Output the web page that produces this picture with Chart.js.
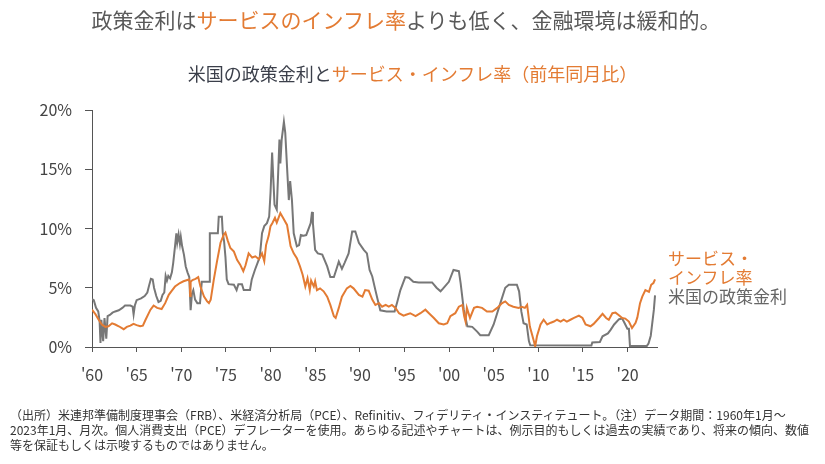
<!DOCTYPE html>
<html lang="ja">
<head>
    <meta charset="UTF-8">
    <title>政策金利とサービス・インフレ率</title>
    <style>
        body{
            margin: 0;
            background: #fff;
            font-family: "Noto Sans CJK JP", "Noto Sans", sans-serif;
        }
        #wrap{
            position: relative;
            width: 825px;
            height: 464px;
            overflow: hidden;
        }
        canvas{
            position: absolute;
            left: 0;
            top: 0;
        }
        .txt{
            position: absolute;
            white-space: nowrap;
        }
        .orange{ color: #E37B33; }
        #title{
            left: 0; width: 812px; top: 8px;
            text-align: center;
            font-size: 21px; line-height: 22px;
            color: #595959;
        }
        #subtitle{
            left: 0; width: 825px; top: 64px;
            text-align: center;
            font-size: 18px; line-height: 18px;
            color: #3b3f4a;
        }
        #labels{
            left: 668px; top: 248px;
            font-size: 17px; line-height: 19px;
        }
        #note{
            left: 10px; top: 407px;
            font-size: 12px; line-height: 15px;
            color: #333;
        }
    </style>
</head>
<body>
<div id="wrap">
    <canvas id="rateChart" width="825" height="464"></canvas>
    <div class="txt" id="title">政策金利は<span class="orange">サービスのインフレ率</span>よりも低く、金融環境は緩和的。</div>
    <div class="txt" id="subtitle">米国の政策金利と<span class="orange">サービス・インフレ率（前年同月比）</span></div>
    <div class="txt" id="labels"><span class="orange">サービス・<br>インフレ率</span><br><span style="color:#666">米国の政策金利</span></div>
    <div class="txt" id="note">（出所）米連邦準備制度理事会（FRB）、米経済分析局（PCE）、Refinitiv、フィデリティ・インスティテュート。（注）データ期間：1960年1月～<br>2023年1月、月次。個人消費支出（PCE）デフレーターを使用。あらゆる記述やチャートは、例示目的もしくは過去の実績であり、将来の傾向、数値<br>等を保証もしくは示唆するものではありません。</div>
</div>

<script src="https://cdn.jsdelivr.net/npm/chart.js"></script>
<script>
    // x軸の目盛り（年）
    const tickYears = [1960, 1965, 1970, 1975, 1980, 1985, 1990, 1995, 2000, 2005, 2010, 2015, 2020];

    // 米国の政策金利（%）
    const policyDates = [
        1960.00, 1960.20, 1960.45, 1960.70, 1960.85, 1960.95, 1961.05, 1961.25, 1961.40, 1961.60,
        1961.75, 1962.00, 1962.30, 1962.60, 1963.00, 1963.40, 1963.70, 1964.30, 1964.55, 1964.66,
        1964.80, 1965.00, 1965.50, 1965.90, 1966.20, 1966.40, 1966.60, 1966.80, 1966.95, 1967.20,
        1967.45, 1967.70, 1967.90, 1968.10, 1968.25, 1968.40, 1968.55, 1968.75, 1968.95, 1969.10,
        1969.30, 1969.45, 1969.55, 1969.70, 1969.85, 1969.95, 1970.10, 1970.30, 1970.50, 1970.70,
        1970.90, 1971.05, 1971.20, 1971.35, 1971.55, 1971.80, 1972.10, 1972.30, 1972.80, 1973.15,
        1973.20, 1973.60, 1974.10, 1974.20, 1974.55, 1974.65, 1974.80, 1974.95, 1975.10, 1975.30,
        1975.90, 1976.20, 1976.40, 1976.80, 1977.00, 1977.70, 1977.90, 1978.25, 1978.80, 1979.05,
        1979.30, 1979.60, 1979.85, 1980.00, 1980.18, 1980.30, 1980.45, 1980.70, 1981.00, 1981.10,
        1981.25, 1981.50, 1981.65, 1981.85, 1982.05, 1982.20, 1982.40, 1982.60, 1982.95, 1983.20,
        1983.40, 1983.70, 1984.00, 1984.50, 1984.65, 1984.75, 1985.00, 1985.30, 1985.80, 1986.35,
        1986.70, 1987.10, 1987.40, 1987.65, 1988.00, 1988.30, 1988.75, 1989.15, 1989.50, 1989.90,
        1990.45, 1990.80, 1991.10, 1991.40, 1991.75, 1992.00, 1992.30, 1993.00, 1993.90, 1994.20,
        1994.55, 1995.10, 1995.50, 1996.00, 1996.60, 1998.10, 1998.60, 1999.05, 1999.30, 1999.98,
        2000.50, 2001.10, 2001.30, 2001.65, 2002.05, 2002.60, 2003.15, 2003.50, 2004.45, 2005.00,
        2005.75, 2006.30, 2006.70, 2007.60, 2007.85, 2008.10, 2008.35, 2008.70, 2008.95, 2009.10,
        2015.95, 2016.05, 2016.90, 2017.20, 2017.80, 2018.10, 2018.50, 2019.05, 2019.40, 2019.65,
        2019.98, 2020.15, 2020.27, 2022.15, 2022.35, 2022.60, 2022.95, 2023.08
    ];
    const policyRate = [
        4.05, 3.95, 3.30, 3.00, 2.20, 0.35, 2.30, 0.50, 2.45, 0.70,
        2.60, 2.70, 2.90, 3.00, 3.10, 3.30, 3.50, 3.50, 3.40, 2.75,
        3.50, 3.95, 4.10, 4.30, 4.60, 5.20, 5.75, 5.70, 5.00, 4.30,
        3.80, 3.90, 4.40, 4.60, 6.00, 5.60, 6.00, 5.80, 6.30, 7.10,
        8.50, 9.60, 8.80, 9.50, 8.70, 9.30, 8.50, 7.80, 6.80, 6.30,
        5.90, 3.10, 4.50, 4.80, 4.00, 3.70, 3.70, 5.50, 5.50, 5.50,
        9.60, 9.60, 9.60, 11.00, 11.00, 9.60, 8.90, 7.60, 5.70, 5.30,
        5.25, 4.80, 5.30, 5.30, 4.80, 4.80, 5.70, 6.50, 7.60, 9.60,
        10.20, 10.45, 11.00, 13.00, 16.40, 14.40, 12.00, 11.60, 17.50, 15.50,
        17.50, 19.00, 18.10, 15.20, 12.40, 14.00, 12.40, 9.60, 8.50, 8.60,
        9.45, 9.40, 9.45, 10.45, 11.40, 10.45, 8.20, 7.90, 7.80, 6.80,
        5.90, 5.90, 6.60, 7.20, 6.60, 7.10, 7.90, 9.75, 9.75, 8.80,
        8.20, 7.90, 6.50, 5.95, 4.80, 4.00, 3.10, 3.00, 3.00, 3.80,
        4.80, 5.90, 5.85, 5.50, 5.45, 5.45, 5.00, 4.70, 4.90, 5.50,
        6.50, 6.40, 5.40, 3.15, 1.75, 1.70, 1.30, 1.00, 1.00, 1.90,
        3.70, 5.00, 5.25, 5.25, 4.70, 3.00, 2.00, 1.90, 0.50, 0.15,
        0.12, 0.38, 0.42, 0.90, 1.15, 1.45, 1.90, 2.35, 2.40, 2.05,
        1.55, 1.55, 0.08, 0.08, 0.30, 0.95, 3.15, 4.35
    ];

    // サービス・インフレ率（前年同月比、%）
    const serviceDates = [
        1960.00, 1960.40, 1960.75, 1961.10, 1961.50, 1961.85, 1962.25, 1962.60, 1963.00, 1963.55,
        1963.90, 1964.30, 1964.65, 1965.00, 1965.40, 1965.70, 1966.00, 1966.55, 1966.90, 1967.30,
        1967.80, 1968.20, 1968.60, 1968.95, 1969.30, 1969.85, 1970.25, 1970.85, 1970.95, 1971.00,
        1971.05, 1971.25, 1971.60, 1971.90, 1972.15, 1972.55, 1972.90, 1973.10, 1973.30, 1973.65,
        1974.00, 1974.40, 1974.75, 1974.95, 1975.20, 1975.50, 1975.90, 1976.25, 1976.60, 1976.95,
        1977.20, 1977.55, 1977.95, 1978.30, 1978.70, 1979.05, 1979.30, 1979.50, 1979.80, 1980.00,
        1980.20, 1980.50, 1980.70, 1981.10, 1981.40, 1981.85, 1982.25, 1982.60, 1982.95, 1983.30,
        1983.60, 1983.90, 1984.15, 1984.40, 1984.55, 1984.85, 1985.00, 1985.20, 1985.55, 1985.95,
        1986.35, 1986.70, 1987.10, 1987.30, 1987.65, 1988.00, 1988.55, 1988.95, 1989.30, 1989.90,
        1990.30, 1990.60, 1991.00, 1991.40, 1991.75, 1992.15, 1992.50, 1992.90, 1993.25, 1993.60,
        1994.00, 1994.40, 1994.90, 1995.10, 1995.65, 1996.25, 1996.80, 1997.35, 1997.75, 1998.30,
        1998.85, 1999.40, 1999.80, 2000.15, 2000.70, 2001.10, 2001.50, 2001.70, 2001.85, 2002.00,
        2002.35, 2002.80, 2003.15, 2003.70, 2004.25, 2004.85, 2005.40, 2005.95, 2006.30, 2006.70,
        2007.20, 2007.80, 2008.15, 2008.50, 2008.75, 2009.05, 2009.50, 2009.65, 2009.85, 2010.25,
        2010.60, 2011.00, 2011.40, 2011.75, 2012.10, 2012.50, 2012.85, 2013.20, 2013.60, 2014.00,
        2014.55, 2014.95, 2015.30, 2015.85, 2016.20, 2016.80, 2017.20, 2017.60, 2017.90, 2018.30,
        2018.65, 2019.00, 2019.40, 2019.75, 2020.15, 2020.50, 2020.90, 2021.10, 2021.40, 2021.65,
        2022.00, 2022.40, 2022.65, 2022.90, 2023.08
    ];
    const serviceInflation = [
        3.15, 2.75, 2.30, 1.90, 1.70, 1.75, 2.00, 1.90, 1.75, 1.50,
        1.70, 1.80, 1.95, 1.85, 1.75, 1.80, 2.30, 3.15, 3.50, 3.30,
        3.20, 3.70, 4.40, 4.75, 5.10, 5.40, 5.55, 5.70, 5.50, 4.30,
        5.50, 5.65, 5.75, 5.90, 5.10, 4.25, 3.85, 3.70, 4.00, 5.70,
        7.20, 8.80, 9.45, 9.65, 9.00, 8.35, 8.05, 7.35, 6.95, 6.40,
        6.90, 7.90, 7.55, 7.65, 7.40, 7.90, 7.25, 8.60, 9.40, 10.20,
        10.45, 10.90, 10.50, 11.30, 10.90, 10.30, 8.50, 7.90, 7.50, 6.80,
        6.10, 5.10, 5.80, 4.80, 5.60, 5.10, 5.55, 4.80, 4.95, 4.70,
        4.25, 3.55, 2.60, 2.45, 3.30, 4.25, 4.95, 5.15, 4.95, 4.40,
        4.25, 4.80, 4.75, 4.00, 3.55, 3.70, 3.40, 3.55, 3.40, 3.55,
        3.30, 2.85, 2.65, 2.70, 2.85, 2.60, 2.85, 3.15, 2.85, 2.45,
        2.00, 1.90, 2.00, 2.60, 2.85, 3.40, 3.55, 2.60, 2.15, 3.30,
        2.45, 3.30, 3.40, 3.30, 3.00, 3.00, 3.30, 3.70, 3.85, 3.55,
        3.40, 3.30, 3.40, 3.30, 3.55, 1.75, 0.50, 0.05, 0.90, 1.90,
        2.30, 1.90, 2.05, 2.15, 2.30, 2.15, 2.30, 2.15, 2.30, 2.45,
        2.65, 2.45, 1.90, 1.75, 1.95, 2.45, 2.80, 2.45, 2.30, 2.85,
        2.90, 2.70, 2.45, 2.40, 2.15, 1.60, 2.05, 2.50, 3.70, 4.25,
        4.80, 4.65, 5.25, 5.40, 5.70
    ];

    const toPoints = (xs, ys) => xs.map((x, i) => ({ x: x, y: ys[i] }));
    const axisColor = '#555';
    const tickFont = { family: '"Noto Sans CJK JP", sans-serif', size: 16 };

    const ctx = document.getElementById('rateChart').getContext('2d');
    const rateChart = new Chart(ctx, {
        type: 'line',
        data: {
            datasets: [
                {
                    label: 'サービス・インフレ率',
                    data: toPoints(serviceDates, serviceInflation),
                    borderColor: '#E37B33',
                    borderWidth: 2,
                    pointRadius: 0,
                    tension: 0
                },
                {
                    label: '米国の政策金利',
                    data: toPoints(policyDates, policyRate),
                    borderColor: '#777777',
                    borderWidth: 2,
                    pointRadius: 0,
                    tension: 0
                }
            ]
        },
        options: {
            responsive: false,
            animation: false,
            devicePixelRatio: 1,
            layout: { padding: { left: 0, top: 110, right: 168, bottom: 0 } },
            plugins: {
                legend: { display: false },
                tooltip: { enabled: false }
            },
            scales: {
                x: {
                    type: 'linear',
                    min: 1960,
                    max: 2023.3,
                    afterBuildTicks: scale => { scale.ticks = tickYears.map(v => ({ value: v })); },
                    afterFit: scale => { scale.height = 117; },
                    grid: { drawOnChartArea: false, drawTicks: true, tickLength: 5, color: axisColor },
                    border: { display: true, color: axisColor, width: 1 },
                    ticks: {
                        color: '#444',
                        font: tickFont,
                        padding: 13,
                        maxRotation: 0,
                        callback: v => "'" + String(v).slice(2)
                    }
                },
                y: {
                    min: 0,
                    max: 20,
                    afterFit: scale => { scale.width = 92; },
                    grid: { drawOnChartArea: false, drawTicks: true, tickLength: 7, color: axisColor },
                    border: { display: true, color: axisColor, width: 1 },
                    ticks: {
                        stepSize: 5,
                        color: '#444',
                        font: tickFont,
                        padding: 13,
                        callback: v => v + '%'
                    }
                }
            }
        }
    });
</script>
</body>
</html>
